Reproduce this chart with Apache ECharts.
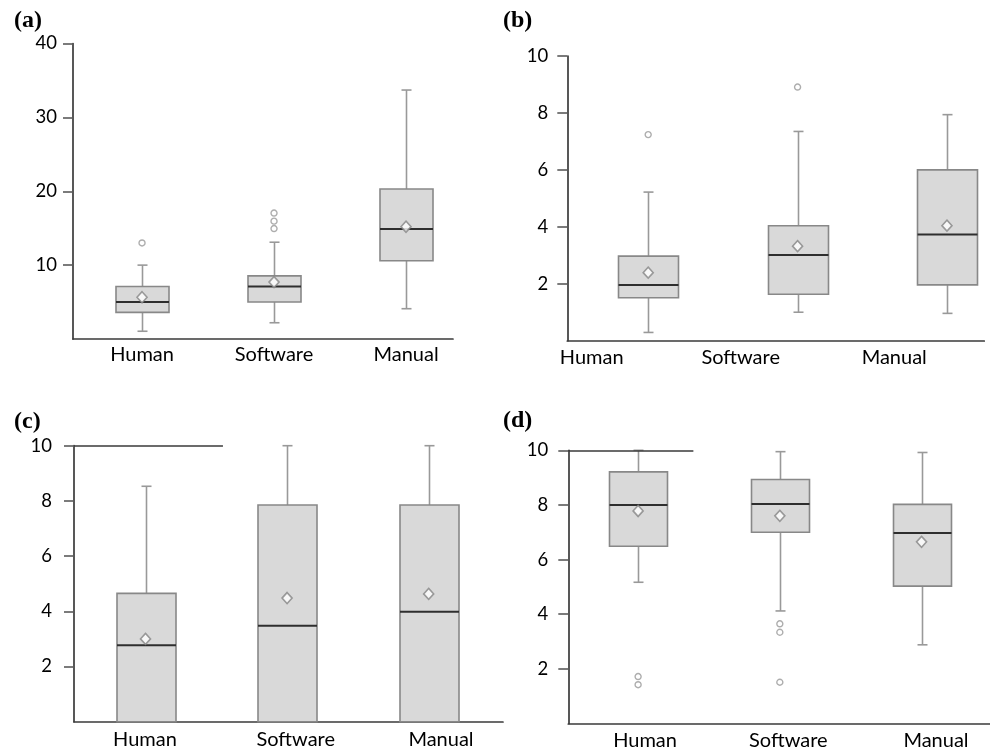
<!DOCTYPE html>
<html>
<head>
<meta charset="utf-8">
<script src="https://cdn.jsdelivr.net/npm/echarts@6/dist/echarts.min.js"></script>
<style>
html,body{margin:0;padding:0;background:#fff;}
#chart{width:990px;height:751px;}
</style>
</head>
<body>
<div id="chart"></div>
<script>
// ---- data ----
const categories = ['Human', 'Software', 'Manual'];
const panelTitles = ['(a)', '(b)', '(c)', '(d)'];

// (a)
const aMin = [1.05, 2.2, 4.1];
const aQ1 = [3.6, 5.0, 10.6];
const aMedian = [5.0, 7.1, 14.9];
const aQ3 = [7.1, 8.55, 20.3];
const aMax = [10.0, 13.1, 33.7];
const aMean = [5.65, 7.7, 15.2];
const aOutliers = [[0, 13.0], [1, 17.05], [1, 15.95], [1, 14.95]];
const aTicks = [10, 20, 30, 40];

// (b)
const bMin = [0.29, 1.0, 0.96];
const bQ1 = [1.51, 1.63, 1.96];
const bMedian = [1.96, 3.01, 3.73];
const bQ3 = [2.97, 4.04, 6.0];
const bMax = [5.22, 7.35, 7.94];
const bMean = [2.39, 3.32, 4.04];
const bOutliers = [[0, 7.24], [1, 8.91]];
const bTicks = [2, 4, 6, 8, 10];

// (c)
const cMin = [0, 0, 0];
const cQ1 = [0, 0, 0];
const cMedian = [2.77, 3.48, 3.98];
const cQ3 = [4.65, 7.85, 7.85];
const cMax = [8.53, 10, 10];
const cMean = [3.0, 4.48, 4.63];
const cOutliers = [];
const cTicks = [2, 4, 6, 8, 10];

// (d)
const dMin = [5.17, 4.12, 2.88];
const dQ1 = [6.49, 7.0, 5.03];
const dMedian = [8.0, 8.03, 6.97];
const dQ3 = [9.21, 8.93, 8.02];
const dMax = [10, 9.95, 9.92];
const dMean = [7.78, 7.6, 6.65];
const dOutliers = [[0, 1.72], [0, 1.42], [1, 3.65], [1, 3.34], [1, 1.51]];
const dTicks = [2, 4, 6, 8, 10];

// ---- layout (positions / styles only) ----
const panels = [
  { min: aMin, q1: aQ1, med: aMedian, q3: aQ3, max: aMax, mean: aMean, out: aOutliers, ticks: aTicks, yMax: 40,
    grid: { left: 73, top: 43.5, width: 380, height: 295.5 },
    xMin: 0.477, xMax: 3.356, labelPos: [1, 2, 3], boxW: 53, yMargin: 16, xMargin: 6,
    title: { left: 14, top: 9 }, topLineEnd: null },
  { min: bMin, q1: bQ1, med: bMedian, q3: bQ3, max: bMax, mean: bMean, out: bOutliers, ticks: bTicks, yMax: 10,
    grid: { left: 567.3, top: 56, width: 417, height: 284.7 },
    xMin: 0.4585, xMax: 3.25, labelPos: [0.622, 1.619, 2.647], boxW: 60, yMargin: 19, xMargin: 7,
    title: { left: 503, top: 9 }, topLineEnd: null },
  { min: cMin, q1: cQ1, med: cMedian, q3: cQ3, max: cMax, mean: cMean, out: cOutliers, ticks: cTicks, yMax: 10,
    grid: { left: 74, top: 445.7, width: 429, height: 276 },
    xMin: 0.495, xMax: 3.525, labelPos: [0.996, 2.061, 3.087], boxW: 59, yMargin: 22, xMargin: 8,
    title: { left: 14, top: 410 }, topLineEnd: 1.547 },
  { min: dMin, q1: dQ1, med: dMedian, q3: dQ3, max: dMax, mean: dMean, out: dOutliers, ticks: dTicks, yMax: 10,
    grid: { left: 568.3, top: 450.3, width: 421.7, height: 274 },
    xMin: 0.5074, xMax: 3.483, labelPos: [1.049, 2.06, 3.102], boxW: 58, yMargin: 20, xMargin: 7.5,
    title: { left: 503, top: 409 }, topLineEnd: 1.39 }
];

const AXIS_COLOR = '#3a3a3a';
const BOX_FILL = '#d9d9d9';
const BOX_STROKE = '#888888';
const WHISKER = '#999999';
const MEDIAN = '#2e2e2e';
const FONT = 'Lato';
const TEXT = '#000000';

function makeRender(boxW) {
  return function (params, api) {
    const x = api.value(0);
    const pMin = api.coord([x, api.value(1)]);
    const pQ1 = api.coord([x, api.value(2)]);
    const pMed = api.coord([x, api.value(3)]);
    const pQ3 = api.coord([x, api.value(4)]);
    const pMax = api.coord([x, api.value(5)]);
    const cx = Math.round(pQ1[0]) + 0.5;
    const half = boxW / 2;
    const cap = 5;
    const wStyle = { stroke: WHISKER, lineWidth: 1.6 };
    const children = [];
    if (pMin[1] - pQ1[1] > 0.5) {
      children.push({ type: 'line', shape: { x1: cx, y1: pQ1[1], x2: cx, y2: pMin[1] }, style: wStyle });
      children.push({ type: 'line', shape: { x1: cx - cap, y1: pMin[1], x2: cx + cap, y2: pMin[1] }, style: wStyle });
    }
    if (pQ3[1] - pMax[1] > 0.5) {
      children.push({ type: 'line', shape: { x1: cx, y1: pQ3[1], x2: cx, y2: pMax[1] }, style: wStyle });
      children.push({ type: 'line', shape: { x1: cx - cap, y1: pMax[1], x2: cx + cap, y2: pMax[1] }, style: wStyle });
    }
    children.push({ type: 'rect', shape: { x: cx - half, y: pQ3[1], width: boxW, height: pQ1[1] - pQ3[1] },
      style: { fill: BOX_FILL, stroke: BOX_STROKE, lineWidth: 1.6 } });
    children.push({ type: 'line', shape: { x1: cx - half, y1: pMed[1], x2: cx + half, y2: pMed[1] },
      style: { stroke: MEDIAN, lineWidth: 2 } });
    return { type: 'group', children: children };
  };
}

const option = { animation: false, backgroundColor: '#ffffff', title: [], grid: [], xAxis: [], yAxis: [], series: [] };

panels.forEach(function (p, k) {
  option.title.push({ text: panelTitles[k], left: p.title.left, top: p.title.top, padding: 0,
    textStyle: { fontFamily: 'Liberation Serif', fontWeight: 'bold', fontSize: 24, color: '#000' } });
  option.grid.push(Object.assign({ containLabel: false }, p.grid));
  const labelPos = p.labelPos;
  option.xAxis.push({
    type: 'value', gridIndex: k, min: p.xMin, max: p.xMax,
    axisLine: { show: true, onZero: false, lineStyle: { color: AXIS_COLOR, width: 1.7 } },
    axisTick: { show: false },
    splitLine: { show: false },
    axisLabel: {
      show: true, customValues: labelPos, margin: p.xMargin, fontFamily: FONT, fontSize: 20, color: TEXT,
      formatter: function (v) {
        for (let i = 0; i < labelPos.length; i++) if (Math.abs(labelPos[i] - v) < 1e-6) return categories[i];
        return '';
      }
    }
  });
  option.yAxis.push({
    type: 'value', gridIndex: k, min: 0, max: p.yMax,
    axisLine: { show: true, onZero: false, lineStyle: { color: AXIS_COLOR, width: 1.7 } },
    axisTick: { show: true, customValues: p.ticks, length: 10, lineStyle: { color: '#5a5a5a', width: 1.6 } },
    splitLine: { show: false },
    axisLabel: { show: true, customValues: p.ticks, margin: p.yMargin, fontFamily: FONT, fontSize: 18.5, color: TEXT }
  });
  const boxData = categories.map(function (c, i) {
    return [i + 1, p.min[i], p.q1[i], p.med[i], p.q3[i], p.max[i]];
  });
  option.series.push({
    type: 'custom', xAxisIndex: k, yAxisIndex: k, silent: true,
    renderItem: makeRender(p.boxW), data: boxData,
    encode: { x: 0, y: [1, 2, 3, 4, 5] }
  });
  option.series.push({
    type: 'scatter', xAxisIndex: k, yAxisIndex: k, silent: true, z: 5,
    symbol: 'circle', symbolSize: 6,
    itemStyle: { color: '#ffffff', borderColor: '#999999', borderWidth: 1.4 },
    data: p.out.map(function (o) { return [o[0] + 1, o[1]]; })
  });
  const meanSeries = {
    type: 'scatter', xAxisIndex: k, yAxisIndex: k, silent: true, z: 6,
    symbol: 'diamond', symbolSize: [10, 11],
    itemStyle: { color: '#ffffff', borderColor: '#858585', borderWidth: 1.6 },
    data: p.mean.map(function (v, i) { return [i + 1, v]; })
  };
  if (p.topLineEnd !== null) {
    meanSeries.markLine = {
      silent: true, symbol: 'none', animation: false, label: { show: false },
      lineStyle: { color: AXIS_COLOR, width: 1.7, type: 'solid' },
      data: [[{ coord: [p.xMin, p.yMax] }, { coord: [p.topLineEnd, p.yMax] }]]
    };
  }
  option.series.push(meanSeries);
});

const chart = echarts.init(document.getElementById('chart'), null, { renderer: 'canvas' });
chart.setOption(option);
</script>
</body>
</html>
